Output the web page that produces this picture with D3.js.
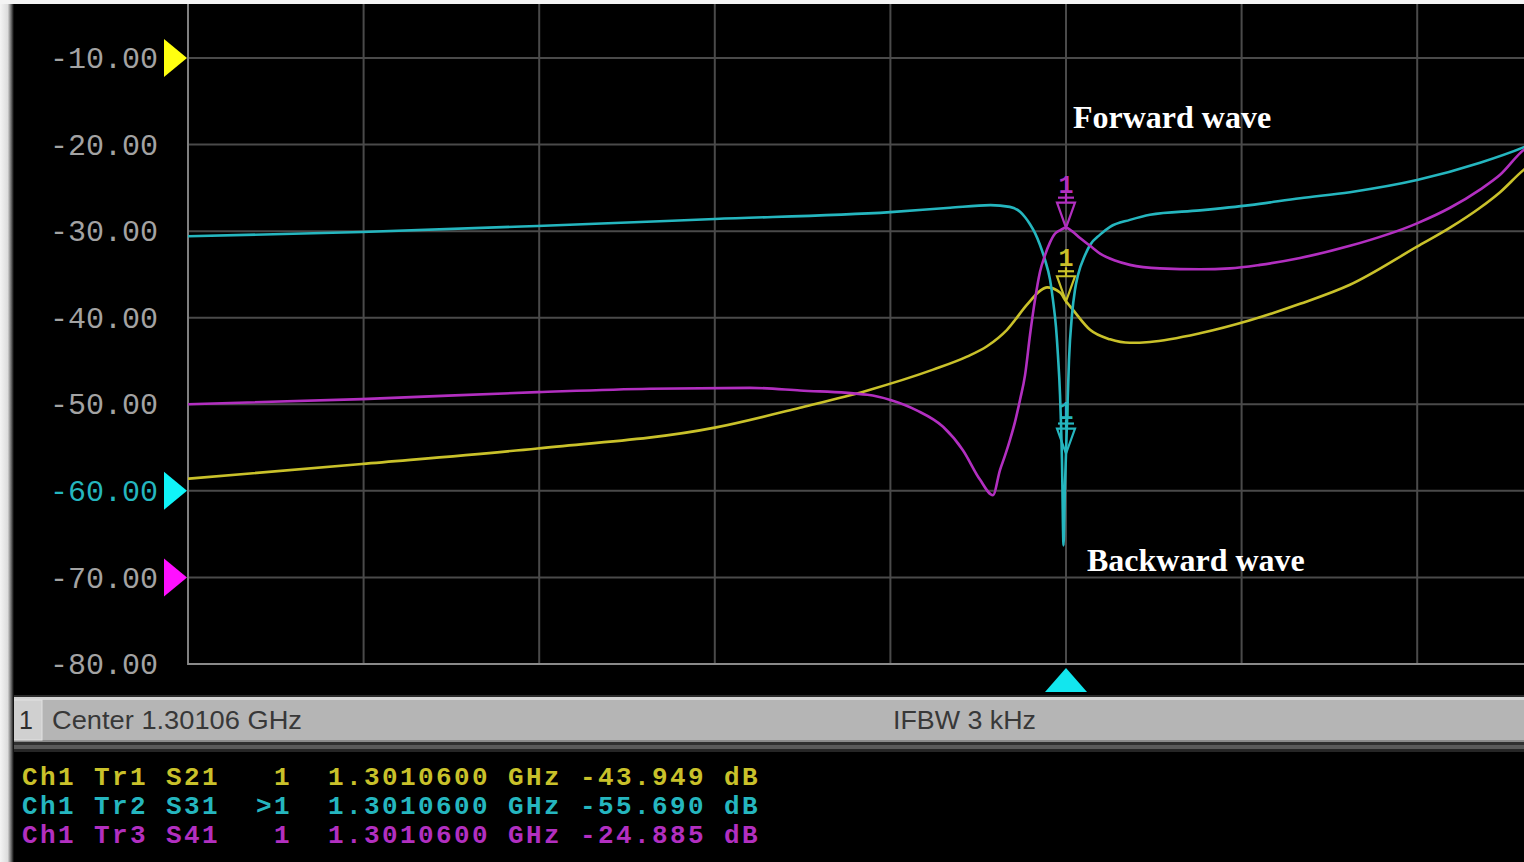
<!DOCTYPE html>
<html>
<head>
<meta charset="utf-8">
<script src="https://cdn.jsdelivr.net/npm/d3@7"></script>
<style>
  html, body { margin: 0; padding: 0; background: #000; overflow: hidden; }
  svg { display: block; }
</style>
</head>
<body>
<svg id="vna" width="1524" height="862"></svg>
<script>
// ---- Sweep settings ----
const centerGHz = 1.30106;
const sweepOffsetKHz = [-500, 500];          // full sweep, 10 divisions
const gridOffsetsKHz = [-400, -300, -200, -100, 0, 100, 200, 300, 400];
const dbTicks = [-10, -20, -30, -40, -50, -60, -70, -80];
const dbRange = [-80, 0];

// ---- Traces: [offset from center in kHz, magnitude in dB] ----
const s21 = [
  [-500, -58.6], [-401, -56.9], [-301, -55.1], [-200, -52.7], [-151.5, -50.4],
  [-113, -48.4], [-75.7, -46.0], [-56.4, -44.5], [-45, -43.3], [-33.6, -41.4],
  [-22.2, -38.5], [-14.8, -36.9], [-10.8, -36.5], [-3.4, -37.1], [0, -38.1],
  [4, -39.1], [13.7, -41.4], [25.1, -42.5], [36.4, -42.9], [47.8, -42.8],
  [76.3, -41.8], [104.8, -40.3], [133.3, -38.4], [161.7, -36.2], [199.9, -31.8],
  [218.7, -29.6], [235.8, -27.3], [247.2, -25.5], [260.8, -22.9], [270, -21.6]
];
const s31 = [
  [-500, -30.6], [-401, -30.1], [-301, -29.4], [-200, -28.6], [-100, -27.8],
  [-66, -27.3], [-43, -27.0], [-32, -27.2], [-26, -27.8], [-23.3, -28.4],
  [-20.5, -29.2], [-17.7, -30.2], [-14.8, -31.6], [-12, -33.3], [-9.1, -35.6],
  [-7.4, -38.0], [-5.7, -41.1], [-4.6, -44.3], [-3.4, -48.9], [-2.3, -56.4],
  [-1.4, -66.3], [-0.6, -59.5], [0, -55.69], [0.6, -51.8], [1.7, -44.9],
  [3.4, -39.7], [5.1, -36.8], [6.8, -35.1], [10.8, -32.8], [13.7, -31.6],
  [19.4, -30.4], [25.1, -29.5], [36.4, -28.7], [47.8, -28.1], [76.3, -27.6],
  [104.8, -27.0], [133.3, -26.2], [161.7, -25.5], [199.9, -24.1], [235.8, -22.1],
  [260.8, -20.3], [270, -19.5]
];
const s41 = [
  [-500, -50.0], [-401, -49.4], [-301, -48.6], [-237, -48.2], [-180, -48.1],
  [-151.5, -48.4], [-113, -48.9], [-100, -49.5], [-85, -50.7], [-70, -52.6],
  [-58.7, -55.3], [-49, -58.7], [-41.6, -60.5], [-37.6, -57.6], [-34.7, -55.9],
  [-31.9, -54.1], [-29, -52.0], [-26.2, -49.5], [-23.3, -46.6], [-20.5, -42.0],
  [-17.7, -38.0], [-14.8, -34.7], [-12, -32.8], [-9.1, -31.3], [-6.3, -30.3],
  [-3.4, -29.9], [0, -29.6], [3.4, -30.0], [8, -30.8], [13.7, -31.7],
  [19.4, -32.6], [27.9, -33.4], [36.4, -33.9], [53.5, -34.3], [76.3, -34.4],
  [93.4, -34.3], [110.5, -33.9], [133.3, -33.1], [161.7, -31.7], [199.9, -29.1],
  [218.7, -27.3], [235.8, -25.2], [247.2, -23.5], [260.8, -20.6], [270, -19.6]
];

// ---- Trace styling / reference levels ----
const traceNames = ["Tr1", "Tr2", "Tr3"];
const traceParams = ["S21", "S31", "S41"];
const traceData = [s21, s31, s41];
const traceColors = ["#c9c12a", "#25b6bf", "#b22fc0"];
const refColors = ["#ffff10", "#10f4f8", "#ff10ff"];
const refLevels = [-10, -60, -70];

// ---- Marker readout table ----
const markerIds = ["1", ">1", "1"];
const markerStim = ["1.3010600", "1.3010600", "1.3010600"];
const markerValues = ["-43.949", "-55.690", "-24.885"];
const markerOffsetKHz = 0;

// ---- Status bar ----
const statusLeft = "Center 1.30106 GHz";
const statusMid = "IFBW 3 kHz";

const svg = d3.select("#vna");
const W = 1524, H = 862;
const plot = { left: 188, right: 1524, top: 0, bottom: 664 };

const x = d3.scaleLinear().domain(sweepOffsetKHz).range([188, 1944]);
const y = d3.scaleLinear().domain(dbRange).range([664, -28.6]);

// background
svg.append("rect").attr("width", W).attr("height", H).attr("fill", "#000");

// clip for the trace window
const defs = svg.append("defs");
defs.append("clipPath").attr("id", "plotClip")
  .append("rect")
  .attr("x", plot.left).attr("y", plot.top)
  .attr("width", plot.right - plot.left).attr("height", plot.bottom - plot.top);

// grid
const grid = svg.append("g").attr("clip-path", "url(#plotClip)");
grid.selectAll("line.v").data(gridOffsetsKHz).join("line")
  .attr("x1", d => x(d)).attr("x2", d => x(d))
  .attr("y1", plot.top).attr("y2", plot.bottom)
  .attr("stroke", "#4a4a4a").attr("stroke-width", 2);
grid.selectAll("line.h").data(dbTicks.filter(d => d > -80)).join("line")
  .attr("x1", plot.left).attr("x2", plot.right)
  .attr("y1", d => y(d)).attr("y2", d => y(d))
  .attr("stroke", "#4a4a4a").attr("stroke-width", 2);

// window frame (left and bottom)
svg.append("line").attr("x1", plot.left).attr("x2", plot.left)
  .attr("y1", 0).attr("y2", plot.bottom + 1)
  .attr("stroke", "#808080").attr("stroke-width", 2);
svg.append("line").attr("x1", plot.left).attr("x2", plot.right)
  .attr("y1", plot.bottom).attr("y2", plot.bottom)
  .attr("stroke", "#8a8a8a").attr("stroke-width", 2);

// y axis labels
const yAxis = d3.axisLeft(y).tickValues(dbTicks)
  .tickFormat(d => d.toFixed(2)).tickSize(0).tickPadding(30);
const gy = svg.append("g").attr("transform", `translate(${plot.left},0)`).call(yAxis);
gy.select(".domain").remove();
gy.selectAll("text")
  .attr("font-family", "'Liberation Mono', 'DejaVu Sans Mono', monospace")
  .attr("font-size", 30)
  .attr("fill", d => d === -60 ? traceColors[1] : "#a3a3a3");

// reference level arrows
svg.selectAll("path.ref").data(refLevels).join("path")
  .attr("d", d => {
    const yy = y(d);
    return `M${plot.left - 24},${yy - 19}L${plot.left - 1},${yy}L${plot.left - 24},${yy + 19}Z`;
  })
  .attr("fill", (d, i) => refColors[i]);

// traces
const line = d3.line().x(d => x(d[0])).y(d => y(d[1])).curve(d3.curveMonotoneX);
const traces = svg.append("g").attr("clip-path", "url(#plotClip)");
traces.selectAll("path").data(traceData).join("path")
  .attr("d", line)
  .attr("fill", "none")
  .attr("stroke", (d, i) => traceColors[i])
  .attr("stroke-width", 2.6)
  .attr("stroke-linejoin", "round");

// markers at the marker stimulus on each trace
function valueAt(series, k) {
  const i = d3.bisector(d => d[0]).left(series, k);
  const a = series[Math.max(0, i - 1)], b = series[Math.min(series.length - 1, i)];
  if (b[0] === a[0]) return b[1];
  return a[1] + (b[1] - a[1]) * (k - a[0]) / (b[0] - a[0]);
}
const mx = x(markerOffsetKHz);
const markers = svg.append("g");
[0, 2, 1].forEach(i => {
  const tip = y(valueAt(traceData[i], markerOffsetKHz));
  const g = markers.append("g").attr("stroke", traceColors[i]).attr("fill", "none").attr("stroke-width", 2.2);
  g.append("path").attr("d", `M${mx - 9},${tip - 25}L${mx + 9},${tip - 25}L${mx},${tip}Z`);
  g.append("line").attr("x1", mx - 8).attr("x2", mx + 8)
    .attr("y1", tip - 30).attr("y2", tip - 30);
  g.append("line").attr("x1", mx).attr("x2", mx).attr("y1", tip - 34).attr("y2", tip - 25);
  markers.append("text").attr("x", mx).attr("y", tip - 35)
    .attr("text-anchor", "middle")
    .attr("font-family", "'Liberation Mono', monospace").attr("font-size", 25)
    .attr("font-weight", "bold")
    .attr("fill", traceColors[i]).text("1");
});

// stimulus marker at the bottom of the window
svg.append("path")
  .attr("d", `M${mx},${668}L${mx + 21},${692}L${mx - 21},${692}Z`)
  .attr("fill", "#12e6ee");

// annotations
svg.append("text").attr("x", 1073).attr("y", 128)
  .attr("font-family", "'Liberation Serif', 'Times New Roman', serif")
  .attr("font-weight", "bold").attr("font-size", 32).attr("fill", "#fff")
  .text("Forward wave");
svg.append("text").attr("x", 1087).attr("y", 571)
  .attr("font-family", "'Liberation Serif', 'Times New Roman', serif")
  .attr("font-weight", "bold").attr("font-size", 32).attr("fill", "#fff")
  .text("Backward wave");

// status bar
const sb = svg.append("g");
sb.append("rect").attr("x", 0).attr("y", 695).attr("width", W).attr("height", 2).attr("fill", "#2a2a2a");
sb.append("rect").attr("x", 0).attr("y", 697).attr("width", W).attr("height", 3).attr("fill", "#d4d4d4");
sb.append("rect").attr("x", 0).attr("y", 700).attr("width", W).attr("height", 40).attr("fill", "#b5b5b5");
sb.append("rect").attr("x", 0).attr("y", 740).attr("width", W).attr("height", 2).attr("fill", "#8a8a8a");
sb.append("rect").attr("x", 0).attr("y", 742).attr("width", W).attr("height", 3).attr("fill", "#303030");
sb.append("rect").attr("x", 0).attr("y", 745).attr("width", W).attr("height", 4).attr("fill", "#5a5a5a");
sb.append("rect").attr("x", 0).attr("y", 749).attr("width", W).attr("height", 3).attr("fill", "#262626");
sb.append("rect").attr("x", 10).attr("y", 700).attr("width", 32).attr("height", 40)
  .attr("fill", "#d0d0d0").attr("stroke", "#e2e2e2").attr("stroke-width", 1);
const sbFont = "'Liberation Sans', Arial, sans-serif";
sb.append("text").attr("x", 26).attr("y", 729).attr("text-anchor", "middle")
  .attr("font-family", sbFont).attr("font-size", 25).attr("fill", "#2e2e2e").text("1");
sb.append("text").attr("x", 52).attr("y", 729)
  .attr("font-family", sbFont).attr("font-size", 25).attr("fill", "#383838")
  .attr("textLength", 250).attr("lengthAdjust", "spacingAndGlyphs").text(statusLeft);
sb.append("text").attr("x", 893).attr("y", 729)
  .attr("font-family", sbFont).attr("font-size", 25).attr("fill", "#383838")
  .attr("textLength", 143).attr("lengthAdjust", "spacingAndGlyphs").text(statusMid);

// marker readout table (fixed 18 px character cells)
const cell = 18, col0 = 22;
const ro = svg.append("g")
  .attr("font-family", "'Liberation Mono', 'DejaVu Sans Mono', monospace")
  .attr("font-size", 26)
  .attr("font-weight", "bold")
  .attr("letter-spacing", 2.4);
traceNames.forEach((tr, i) => {
  const yy = 785 + i * 29;
  const row = ro.append("g").attr("fill", traceColors[i]);
  const put = (col, txt, anchor) => row.append("text")
    .attr("x", col0 + col * cell).attr("y", yy)
    .attr("text-anchor", anchor || "start").text(txt);
  put(0, "Ch1");
  put(4, tr);
  put(8, traceParams[i]);
  put(15, markerIds[i], "end");
  put(17, markerStim[i]);
  put(27, "GHz");
  put(31, markerValues[i]);
  put(39, "dB");
});

// screen-capture edges
const lg = defs.append("linearGradient").attr("id", "edgeL").attr("x1", 0).attr("x2", 1);
lg.append("stop").attr("offset", 0).attr("stop-color", "#f4f4f4");
lg.append("stop").attr("offset", 0.55).attr("stop-color", "#dcdcdc");
lg.append("stop").attr("offset", 0.8).attr("stop-color", "#6a6a6a");
lg.append("stop").attr("offset", 1).attr("stop-color", "#000");
svg.append("rect").attr("x", 0).attr("y", 0).attr("width", 14).attr("height", H).attr("fill", "url(#edgeL)");
svg.append("rect").attr("x", 0).attr("y", 0).attr("width", W).attr("height", 4).attr("fill", "#f4f4f4");
</script>
</body>
</html>
